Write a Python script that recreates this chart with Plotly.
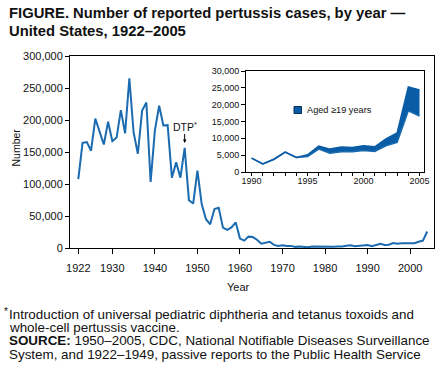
import plotly.graph_objects as go

years_main = list(range(1922, 2005))
cases_main = [107473, 164191, 165418, 152003, 202210, 181411, 161799, 197371, 166914, 172559,
              215343, 179135, 265269, 180518, 147237, 214652, 227319, 103188, 183866, 222202,
              191383, 191890, 109873, 133792, 109860, 156517, 74715, 69479, 120718, 68687,
              45030, 37129, 60886, 62786, 31732, 28295, 32148, 40005, 14809, 11468,
              17749, 17135, 13005, 6799, 7717, 9718, 4810, 3285, 4249, 3036,
              3287, 1759, 2402, 1738, 1010, 2177, 2063, 1623, 1730, 1248,
              1895, 2463, 2276, 3589, 4195, 2823, 3450, 4157, 4570, 2719,
              4083, 6586, 4617, 5137, 7796, 6564, 7405, 7288, 7867, 7580,
              9771, 11647, 25827]

years_inset = list(range(1990, 2006))
inset_lower = [4100, 2400, 3800, 5900, 4300, 4600, 6800, 5600, 6000, 6000, 6400, 6100, 7800, 8800, 18200, 16600]
inset_total = [4100, 2400, 3800, 5900, 4300, 5100, 7700, 6800, 7400, 7300, 7800, 7500, 9800, 11600, 25300, 24400]

main_x_ticks = [1922, 1930, 1940, 1950, 1960, 1970, 1980, 1990, 2000]
inset_x_ticks = [1990, 1995, 2000, 2005]

FONT = "Liberation Sans, Arial, sans-serif"
LINE = "#1a6bb0"
BAND = "#0a5ca6"

fig = go.Figure()
fig.add_trace(go.Scatter(x=years_main, y=cases_main, mode="lines",
                         line=dict(color=LINE, width=2), xaxis="x", yaxis="y", showlegend=False))
fig.add_trace(go.Scatter(x=years_inset, y=inset_lower, mode="lines",
                         line=dict(color=LINE, width=1.5), xaxis="x2", yaxis="y2", showlegend=False))
fig.add_trace(go.Scatter(x=years_inset, y=inset_total, mode="lines", fill="tonexty",
                         fillcolor=BAND, line=dict(color=BAND, width=1.5),
                         xaxis="x2", yaxis="y2", showlegend=False))

ax_common = dict(showgrid=False, zeroline=False, showline=True, linecolor="#000", linewidth=1,
                 ticks="outside", tickcolor="#000", tickwidth=1, mirror=True, automargin=False)

L, R, T, B = 70, 8, 56, 124
PW = 442 - L - R
PH = 372 - T - B

fig.update_layout(
    width=442, height=372,
    margin=dict(l=L, r=R, t=T, b=B, autoexpand=False),
    paper_bgcolor="white", plot_bgcolor="white",
    font=dict(family=FONT, color="#111"),
    xaxis=dict(domain=[0, 1], range=[1920.05, 2005.6], tickvals=main_x_ticks, ticklen=5,
               ticklabelstandoff=5, tickfont=dict(size=11), **ax_common),
    yaxis=dict(domain=[0, 1], range=[0, 300000], dtick=50000, tickformat=",", ticklen=4,
               tickfont=dict(size=11), **ax_common),
    xaxis2=dict(domain=[(246 - L) / PW, (424 - L) / PW], range=[1989.5, 2005.4], anchor="y2",
                tickvals=inset_x_ticks, ticklen=3, ticklabelstandoff=-3, tickfont=dict(size=9),
                minor=dict(dtick=1, ticklen=3, ticks="outside", tickcolor="#000", showgrid=False),
                **ax_common),
    yaxis2=dict(domain=[(372 - B - 172) / PH, (372 - B - 71) / PH], range=[0, 30000], dtick=5000,
                tickformat=",", anchor="x2", ticklen=4, tickfont=dict(size=9), **ax_common),
)

# inset legend swatch
fig.add_shape(type="rect", xref="x2 domain", yref="y2 domain",
              x0=(294 - 246) / 178, x1=(301.5 - 246) / 178, y0=(172 - 113.5) / 101, y1=(172 - 106.5) / 101,
              fillcolor=BAND, line=dict(color="#062f5a", width=1))
fig.add_annotation(text="Aged ≥19 years", xref="x2 domain", yref="y2 domain",
                   x=(304.5 - 246) / 178, y=(172 - 110.3) / 101, xanchor="left", yanchor="middle",
                   showarrow=False, font=dict(size=9.2, color="#111"))

# DTP annotation
fig.add_annotation(text="DTP<sup>*</sup>", x=1947, y=164000, xref="x", yref="y",
                   showarrow=True, arrowhead=2, arrowsize=0.7, arrowwidth=1, arrowcolor="#000",
                   ax=0, ay=-17, font=dict(size=10.5, color="#111"))


def px_x(px):
    return (px - L) / PW


def px_y(py):
    return (372 - B - py) / PH


# axis titles
fig.add_annotation(text="Number", xref="paper", yref="paper", x=px_x(15), y=px_y(147.5), textangle=-90,
                   showarrow=False, font=dict(size=10.5, color="#111"), xanchor="center", yanchor="middle")
fig.add_annotation(text="Year", xref="paper", yref="paper", x=px_x(238.5), y=px_y(286.5),
                   showarrow=False, font=dict(size=11, color="#111"), xanchor="center", yanchor="middle")

# title lines
fig.add_annotation(text="<b>FIGURE. Number of reported pertussis cases, by year —</b>",
                   xref="paper", yref="paper", x=px_x(6.5), y=px_y(13.5), xanchor="left", yanchor="middle",
                   showarrow=False, font=dict(size=14.8, color="#111"))
fig.add_annotation(text="<b>United States, 1922–2005</b>",
                   xref="paper", yref="paper", x=px_x(6.5), y=px_y(31.5), xanchor="left", yanchor="middle",
                   showarrow=False, font=dict(size=14.8, color="#111"))

foot = [
    (7, 314, "Introduction of universal pediatric diphtheria and tetanus toxoids and"),
    (7, 327.3, "whole-cell pertussis vaccine."),
    (7, 340.6, "<b>SOURCE:</b> 1950–2005, CDC, National Notifiable Diseases Surveillance"),
    (7, 354, "System, and 1922–1949, passive reports to the Public Health Service"),
]
for x, y, t in foot:
    fig.add_annotation(text=t, xref="paper", yref="paper", x=px_x(x), y=px_y(y),
                       xanchor="left", yanchor="middle", showarrow=False,
                       font=dict(size=13.4, color="#111"))
fig.add_annotation(text="*", xref="paper", yref="paper", x=px_x(2), y=px_y(311),
                   xanchor="left", yanchor="middle", showarrow=False, font=dict(size=10, color="#111"))

fig.write_html("out.html", config={"displayModeBar": False},
               post_script="document.body.style.margin='0px';document.body.style.overflow='hidden';")
